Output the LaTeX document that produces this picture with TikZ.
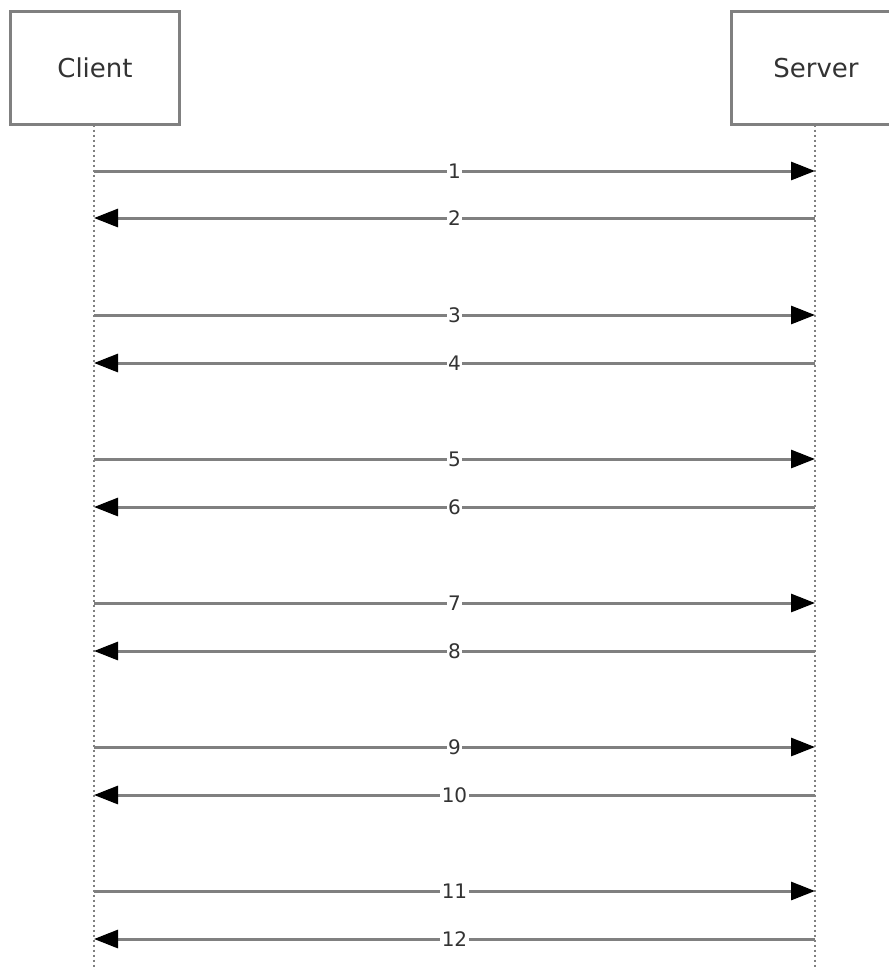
\documentclass[tikz,border=0pt]{standalone}
\usepackage{fontspec}
\setmainfont{DejaVu Sans}
\usetikzlibrary{arrows.meta}
\definecolor{linegray}{RGB}{128,128,128}
\definecolor{textgray}{RGB}{51,51,51}
\tikzset{
  actorbox/.style={draw=linegray, line width=3pt, minimum width=169pt, minimum height=113pt, inner sep=0pt, font=\fontsize{26}{30}\selectfont, text=textgray, anchor=north west},
  lifeline/.style={draw=linegray, line width=2.6pt, dash pattern=on 2.5pt off 2.5pt},
  msg/.style={draw=linegray, line width=3pt, -{Triangle[length=24pt,width=18pt,black]}},
  msglabel/.style={fill=white, inner xsep=1.5pt, inner ysep=1pt, font=\fontsize{20}{24}\selectfont, text=textgray}
}
\begin{document}
\begin{tikzpicture}[x=1pt,y=-1pt]
\useasboundingbox (0,0) rectangle (889,970);
\clip (0,0) rectangle (889,970);
\node[actorbox] (client) at (9,10) {Client};
\node[actorbox] (server) at (730,10) {Server};
\coordinate (ct) at (94,124.5);
\coordinate (st) at (815,124.5);
\coordinate (cb) at (94,970);
\coordinate (sb) at (815,970);
\draw[lifeline] (ct) -- (cb);
\draw[lifeline] (st) -- (sb);
\foreach \i/\y in {1/171,3/315,5/459,7/603,9/747,11/891}{
  \coordinate (c\i) at (94,\y);
  \coordinate (s\i) at (815,\y);
  \draw[msg] (c\i) -- node[msglabel] {\i} (s\i);
}
\foreach \i/\y in {2/218,4/363,6/507,8/651,10/795,12/939}{
  \coordinate (c\i) at (94,\y);
  \coordinate (s\i) at (815,\y);
  \draw[msg] (s\i) -- node[msglabel] {\i} (c\i);
}
\end{tikzpicture}
\end{document}
